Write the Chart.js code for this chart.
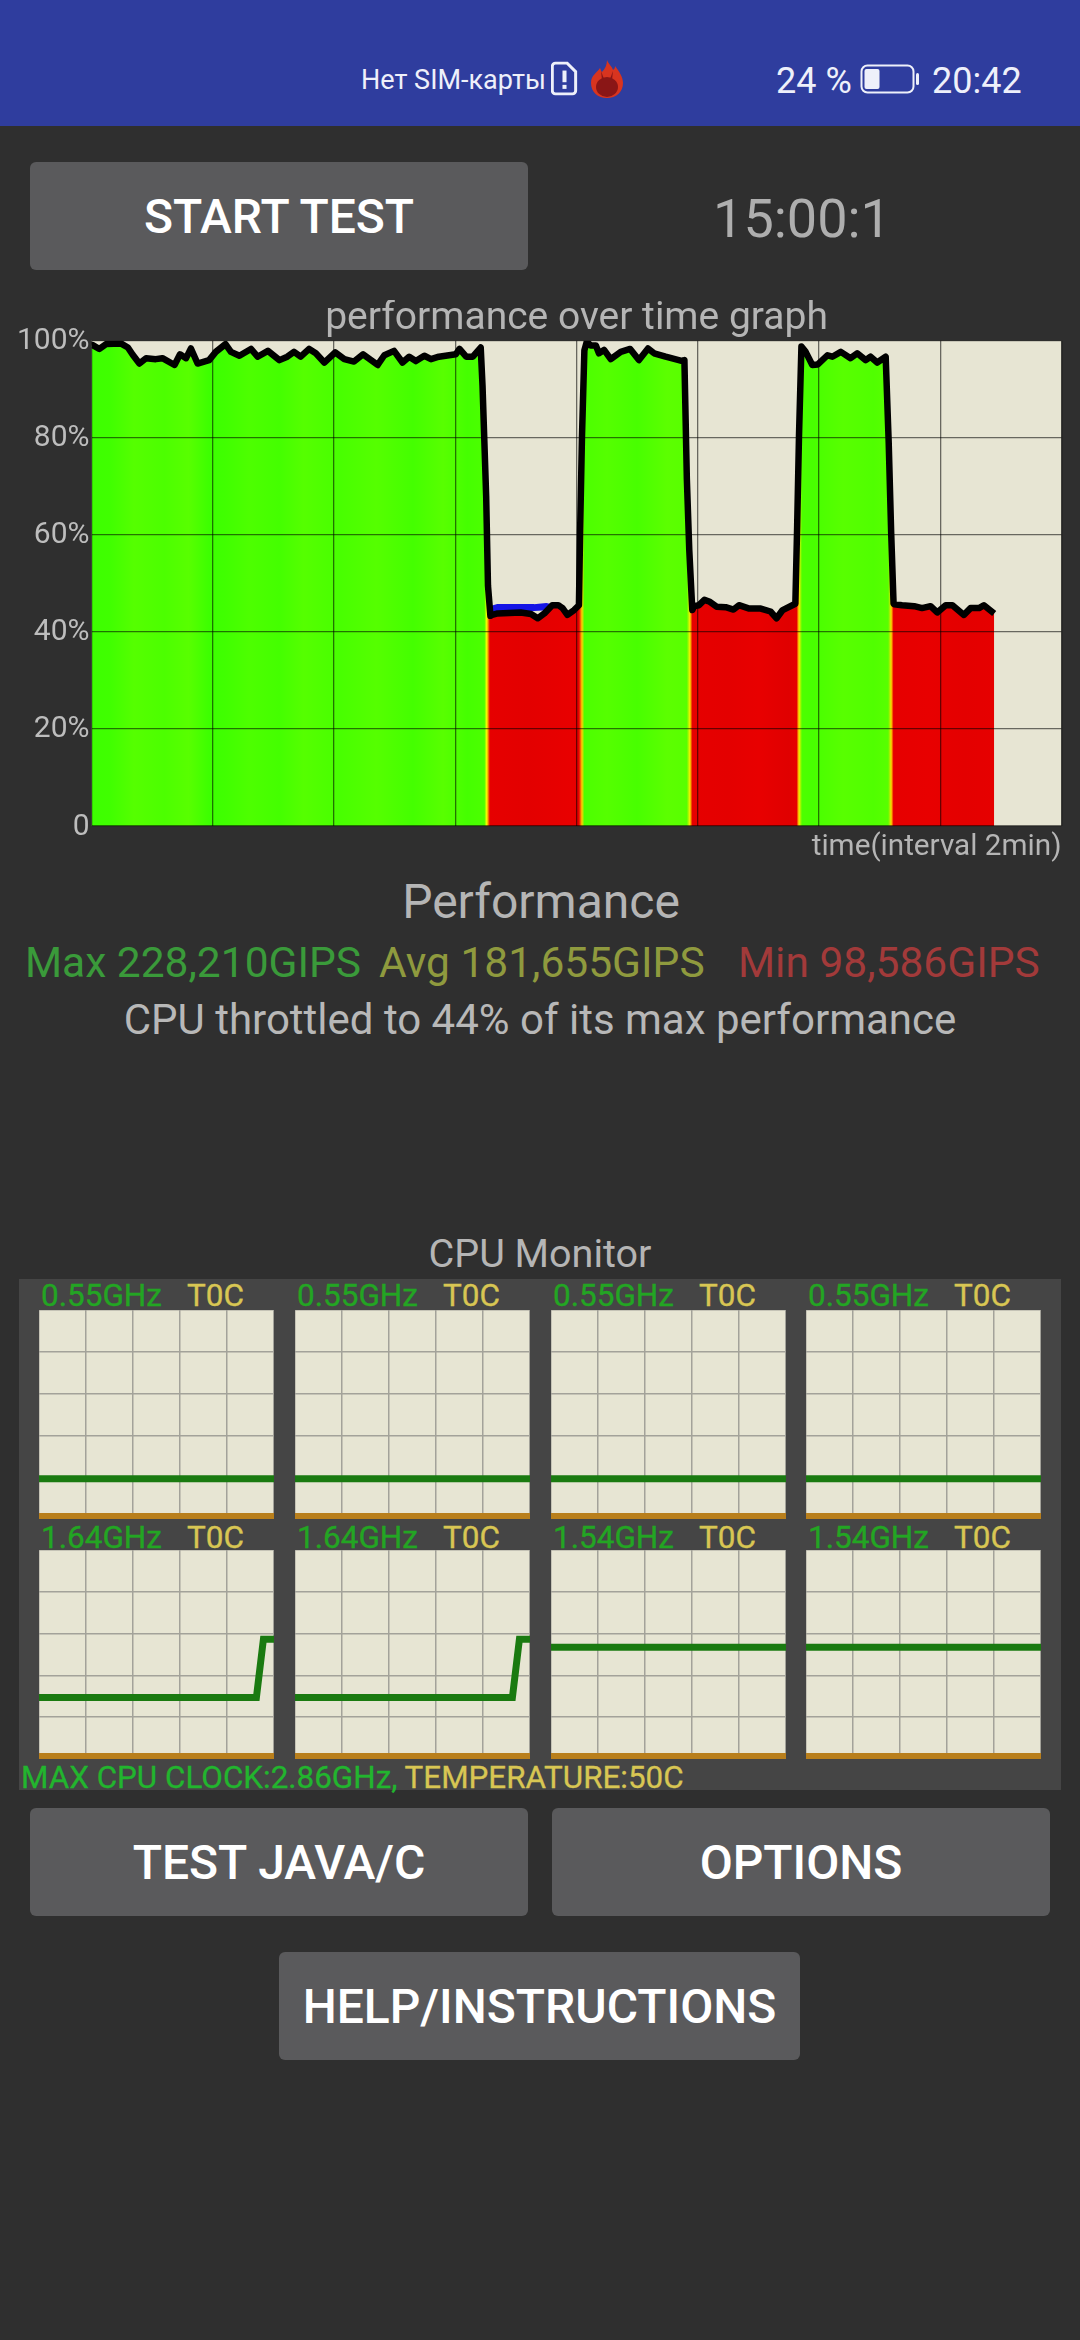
<!DOCTYPE html>
<html><head><meta charset="utf-8">
<script src="https://cdn.jsdelivr.net/npm/chart.js@4/dist/chart.umd.min.js"></script>
<style>
html,body{margin:0;padding:0;background:#2f2f2f;width:1080px;height:2340px;overflow:hidden;font-family:Roboto,sans-serif}
#bar{position:absolute;left:0;top:0;width:1080px;height:126px;background:#2f3d9e}
.t{position:absolute;white-space:nowrap;transform:translateY(-50%);line-height:1}
.c{transform:translate(-50%,-50%)}
.btn{position:absolute;background:#5a5a5c;border-radius:6px;color:#fff;font-weight:500;font-size:48px;display:flex;align-items:center;justify-content:center;padding-top:1px;box-sizing:border-box}
#panel{position:absolute;left:19px;top:1279px;width:1042px;height:511px;background:#454545}
canvas{position:absolute;display:block}
.g{color:#23a523;font-size:31.5px;-webkit-text-stroke:.35px #23a523}.y{color:#d8c653;font-size:31.5px;-webkit-text-stroke:.35px #d8c653}
svg{position:absolute}
</style></head><body>
<div id="bar"></div>
<div class="t" style="left:361px;top:80px;color:#eef0fa;font-size:27px">Нет SIM-карты</div>
<svg style="left:551px;top:61px" width="27" height="35" viewBox="0 0 25 33"><path d="M4 2h11l8 8v18a3 3 0 0 1-3 3H4a3 3 0 0 1-3-3V5a3 3 0 0 1 3-3z" fill="none" stroke="#eef0fa" stroke-width="2.8"/><rect x="10.6" y="9" width="3.8" height="11" fill="#eef0fa"/><rect x="10.6" y="22.5" width="3.8" height="3.8" fill="#eef0fa"/></svg>
<svg style="left:591px;top:60px" width="32" height="38" viewBox="0 0 32 38"><path d="M16 0c2 5 5 6 6 10 2-1 2-3 2-4 4 5 8 11 8 17 0 9-7 15-16 15S0 32 0 23C0 15 6 13 9 8c1 2 1 3 2 4 3-3 5-7 5-12z" fill="#d8341f"/><ellipse cx="16" cy="27" rx="11" ry="10" fill="#8a1616"/><path d="M11 20l-1-9 3 8zM21 20l1-9-3 8z" fill="#8a1616"/></svg>
<div class="t" style="left:776px;top:81px;color:#eef0fa;font-size:36px">24 %</div>
<svg style="left:860px;top:64px" width="60" height="30" viewBox="0 0 60 30"><rect x="1.5" y="1.5" width="52" height="27" rx="6" fill="none" stroke="#eef0fa" stroke-width="2"/><rect x="4.5" y="5" width="15" height="20" rx="2" fill="#eef0fa"/><rect x="56" y="9" width="3" height="12" rx="1.5" fill="#eef0fa"/></svg>
<div class="t" style="left:932px;top:81px;color:#eef0fa;font-size:36px">20:42</div>

<div class="btn" style="left:30px;top:162px;width:498px;height:108px">START TEST</div>
<div class="t c" style="left:802px;top:219px;color:#aeaeae;font-size:54px">15:00:1</div>

<canvas id="perf" width="1080" height="562" style="left:0;top:300px"></canvas>

<div class="t c" style="left:541px;top:902px;color:#b5b5b5;font-size:48px">Performance</div>
<div class="t" style="left:25px;top:963px;color:#3a9a3a;font-size:42.5px">Max 228,210GIPS</div>
<div class="t" style="left:379px;top:963px;color:#8f9a3e;font-size:42.5px">Avg 181,655GIPS</div>
<div class="t" style="left:738px;top:963px;color:#a23a3a;font-size:42.5px">Min 98,586GIPS</div>
<div class="t c" style="left:540px;top:1020px;color:#b8b8b8;font-size:42px">CPU throttled to 44% of its max performance</div>

<div class="t c" style="left:540px;top:1254px;color:#b5b5b5;font-size:39.5px">CPU Monitor</div>
<div id="panel"></div>
<div id="cells"></div>
<div class="t" style="left:21px;top:1778px;color:#22b52e;font-size:31.4px;-webkit-text-stroke:.3px #22b52e">MAX CPU CLOCK:2.86GHz, <span style="color:#d8c653;-webkit-text-stroke:.3px #d8c653">TEMPERATURE:50C</span></div>

<div class="btn" style="left:30px;top:1808px;width:498px;height:108px">TEST JAVA/C</div>
<div class="btn" style="left:552px;top:1808px;width:498px;height:108px">OPTIONS</div>
<div class="btn" style="left:279px;top:1952px;width:521px;height:108px">HELP/INSTRUCTIONS</div>

<script>
// ---- performance graph data (minutes, % of max performance) ----
const perfMinutes = [0,0.02,0.13,0.24,0.49,0.6,0.68,0.79,0.9,1.06,1.17,1.37,1.46,1.56,1.64,1.75,1.94,2.05,2.21,2.3,2.44,2.63,2.74,2.91,3.1,3.23,3.34,3.45,3.59,3.7,3.84,4.02,4.17,4.33,4.48,4.72,4.83,4.99,5.13,5.24,5.35,5.49,5.6,5.73,6.01,6.07,6.18,6.29,6.42,6.45,6.51,6.54,6.58,6.61,6.7,7.08,7.25,7.36,7.47,7.6,7.7,7.77,7.85,7.96,8.04,8.06,8.09,8.13,8.17,8.235,8.32,8.37,8.455,8.565,8.73,8.885,9.03,9.18,9.28,9.47,9.75,9.78,9.82,9.86,9.91,9.94,10.02,10.11,10.2,10.31,10.46,10.59,10.68,10.85,11.04,11.2,11.3,11.4,11.61,11.64,11.67,11.71,11.78,11.89,11.98,12.14,12.22,12.36,12.52,12.63,12.77,12.85,12.96,13.1,13.15,13.19,13.23,13.24,13.37,13.57,13.7,13.84,13.95,14.09,14.2,14.39,14.5,14.64,14.72,14.89];
const perfPercent = [99,99.1,98.3,99.3,99.4,98.6,97.1,95.3,96.4,96.2,96.4,95,97.2,96.4,98.4,95.3,96,97.7,99.3,97.7,96.9,98.3,96.7,97.9,96,96.7,97.7,96.7,98.3,97.4,95.5,97.6,96.2,95.7,97.2,95,97,97.9,95.5,96.7,95.8,96.9,96.2,96.7,97.2,98.3,96.7,96.7,98.6,90.7,68,49.5,43.3,43.5,43.8,44,43.7,42.8,43.8,45.5,45.5,44.9,43.5,44.5,45.5,61,80,98,99.8,99,99,97.4,98.1,96.2,97.7,98.3,96,98.4,97.4,96.7,95.8,96,71.6,56.9,44.5,45.3,45.5,46.6,46.2,45.2,45.1,44.6,45.5,44.8,44.8,44.2,42.8,44.5,45.8,62,80.4,98.8,97.7,95,95.1,97,96.7,97.7,96.4,97.4,96,96.7,95.5,96.7,78.9,60.6,45.8,45.7,45.5,45.3,44.9,45.3,44,45.5,45.5,43.5,44.9,44.9,45.5,43.8];
const refMinutes = [6.58,6.7,7,7.3,7.5,7.58];
const refPercent = [44.6,45,45,45,45.2,45];
const fillStopMinutes = [0,0.3,0.7,1.2,1.6,1.95,2.2,2.6,3.1,3.5,4.1,4.7,5.3,5.8,6.2,6.48,6.52,6.57,7.2,7.9,8.04,8.09,8.13,8.5,9,9.5,9.82,9.87,9.91,10.5,11,11.5,11.63,11.67,11.72,11.9,12.4,12.9,13.14,13.19,13.23,13.8,14.4,14.89];
const fillStopColors = ['#3dff00','#40ff00','#55ff00','#4cff00','#58ff00','#3cff00','#40ff00','#4dff00','#44ff00','#55ff00','#48ff00','#55ff00','#44ff00','#58ff00','#45ff00','#4cff00','#ffff00','#e60000','#e30000','#e80000','#e60000','#ffd000','#4cff00','#55ff00','#48ff00','#5cff00','#58ff00','#ffee00','#e60000','#e40000','#e80000','#e00000','#e60000','#ffee00','#4cff00','#48ff00','#58ff00','#50ff00','#58ff00','#ffdd00','#e60000','#e80000','#e40000','#e60000'];
const yTickLabels = ['0','20%','40%','60%','80%','100%'];

// ---- CPU monitor data (GHz) ----
const coreMinuteAxis = [0,92.5,95.5,100];
const coreClocks0 = [0.55,0.55,0.55,0.55];
const coreClocks1 = [0.55,0.55,0.55,0.55];
const coreClocks2 = [0.55,0.55,0.55,0.55];
const coreClocks3 = [0.55,0.55,0.55,0.55];
const coreClocks4 = [0.84,0.84,1.64,1.64];
const coreClocks5 = [0.84,0.84,1.64,1.64];
const coreClocks6 = [1.53,1.53,1.53,1.53];
const coreClocks7 = [1.53,1.53,1.53,1.53];
const coreTemps = [0,0,0,0];
const coreLabels = ['0.55GHz','0.55GHz','0.55GHz','0.55GHz','1.64GHz','1.64GHz','1.54GHz','1.54GHz'];
const tempLabels = ['T0C','T0C','T0C','T0C','T0C','T0C','T0C','T0C'];
const maxClock = 2.86;

const paper = {id:'paper',beforeDraw(c){const a=c.chartArea,x=c.ctx;x.save();x.fillStyle='#e7e5d3';x.fillRect(a.left,a.top,a.right-a.left,a.bottom-a.top);x.restore();}};
const zip = (xs,ys)=>xs.map((v,i)=>({x:v,y:ys[i]}));

function perfFill(ctx){
  const c=ctx.chart; if(!c.chartArea) return '#4cff00';
  const s=c.scales.x, e=fillStopMinutes[fillStopMinutes.length-1], l=s.getPixelForValue(0), r=s.getPixelForValue(e);
  const g=c.ctx.createLinearGradient(l,0,r,0);
  fillStopMinutes.forEach((m,i)=>g.addColorStop(m/e,fillStopColors[i]));
  return g;
}

new Chart(document.getElementById('perf'),{
  type:'line',
  data:{datasets:[
    {label:'reference',data:zip(refMinutes,refPercent),borderColor:'#1414e6',borderWidth:7,pointRadius:0,fill:false,clip:0,order:2},
    {label:'performance',data:zip(perfMinutes,perfPercent),borderColor:'#000',borderWidth:6.5,borderJoinStyle:'round',pointRadius:0,tension:0,fill:'origin',backgroundColor:perfFill,clip:0,order:1}
  ]},
  plugins:[paper],
  options:{responsive:false,animation:false,devicePixelRatio:1,
    layout:{padding:{left:0,right:18.5,top:0,bottom:0}},
    plugins:{legend:{display:false},tooltip:{enabled:false},
      title:{display:true,fullSize:false,text:'performance over time graph',color:'#b5b5b5',font:{family:'Roboto',size:39,weight:'normal',lineHeight:1},padding:{top:0,bottom:1.7}}},
    scales:{
      x:{type:'linear',min:0,max:16,position:'bottom',
        ticks:{display:false,stepSize:2},
        grid:{color:'rgba(0,0,0,.55)',lineWidth:1.3,drawTicks:false,z:1},border:{display:false},
        title:{display:true,text:'time(interval 2min)',align:'end',color:'#b5b5b5',font:{family:'Roboto',size:29.7,lineHeight:1},padding:{top:6.3,bottom:0}}},
      y:{min:0,max:100,afterFit(s){s.width=91.5;},
        ticks:{stepSize:20,padding:2,labelOffset:1,color:'#bdbdbd',font:{family:'Roboto',size:30},callback:(v)=>yTickLabels[v/20]},
        grid:{color:'rgba(0,0,0,.55)',lineWidth:1.3,drawTicks:false,z:1},border:{display:false}}
    }}
});

const cellX=[39,295,551,806], cellW=235, rowY=[1310,1550], rowH=[209,209];
const labelY=[1296,1538];
const clocks=[coreClocks0,coreClocks1,coreClocks2,coreClocks3,coreClocks4,coreClocks5,coreClocks6,coreClocks7];
const host=document.getElementById('cells');
clocks.forEach((vals,i)=>{
  const col=i%4,row=i<4?0:1;
  const a=document.createElement('div');a.className='t g';a.textContent=coreLabels[i];a.style.left=(cellX[col]+2)+'px';a.style.top=labelY[row]+'px';host.appendChild(a);
  const b=document.createElement('div');b.className='t y';b.textContent=tempLabels[i];b.style.left=(cellX[col]+148)+'px';b.style.top=labelY[row]+'px';host.appendChild(b);
  const cv=document.createElement('canvas');cv.width=cellW;cv.height=rowH[row];cv.style.left=cellX[col]+'px';cv.style.top=rowY[row]+'px';host.appendChild(cv);
  new Chart(cv,{type:'line',
    data:{datasets:[
      {data:zip(coreMinuteAxis,coreTemps),borderColor:'#b97f1c',borderWidth:12,pointRadius:0,clip:0},
      {data:zip(coreMinuteAxis,vals),borderColor:'#1a7a10',borderWidth:7,borderJoinStyle:'miter',pointRadius:0,clip:0}
    ]},
    plugins:[paper],
    options:{responsive:false,animation:false,devicePixelRatio:1,layout:{padding:0},
      plugins:{legend:{display:false},tooltip:{enabled:false}},
      scales:{
        x:{type:'linear',min:0,max:100,ticks:{display:false,stepSize:20},grid:{color:'#a3a29a',lineWidth:1.5,drawTicks:false},border:{display:false}},
        y:{min:0,max:maxClock,ticks:{display:false,stepSize:maxClock/5},grid:{color:'#a3a29a',lineWidth:1.5,drawTicks:false},border:{display:false}}
      }}
  });
});
</script>
</body></html>
